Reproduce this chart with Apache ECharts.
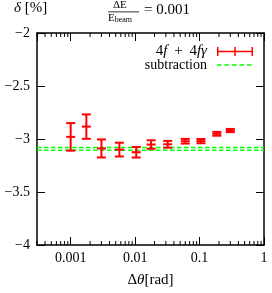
<!DOCTYPE html>
<html>
<head>
<meta charset="utf-8">
<script src="https://cdn.jsdelivr.net/npm/echarts@6/dist/echarts.min.js"></script>
<style>html,body{margin:0;padding:0;background:#fff}#c{width:272px;height:293px}</style>
</head>
<body>
<div id="c"></div>
<script>
// ---- data ----
const xValues   = [0.001, 0.00175, 0.003, 0.0057, 0.0104, 0.0177, 0.032, 0.06, 0.105, 0.185, 0.3];
const yValues   = [-2.98, -2.883, -3.089, -3.10, -3.125, -3.052, -3.05, -3.021, -3.02, -2.951, -2.92];
const yErrors   = [0.13, 0.115, 0.085, 0.065, 0.05, 0.04, 0.032, 0.022, 0.02, 0.018, 0.015];
const subtractionValues = [-3.080, -3.107];
const xRange = [0.0003, 1];
const yRange = [-4, -2];
const yTickInterval = 0.5;

const FONT = 'Liberation Serif';
const chart = echarts.init(document.getElementById('c'), null, {renderer: 'canvas'});

const errData = xValues.map((x, i) => [x, yValues[i], yValues[i] - yErrors[i], yValues[i] + yErrors[i]]);

// minor tick positions for the log axes (2..9 x 10^k inside range)
const minorTicks = [];
for (let e = -4; e <= 0; e++) {
  for (let m = 2; m <= 9; m++) {
    const v = m * Math.pow(10, e);
    if (v > xRange[0] && v < xRange[1]) minorTicks.push([v]);
  }
}

const minus = v => (v < 0 ? '\u2212' : '') + Math.abs(v);

const commonX = {
  type: 'log', logBase: 10, min: xRange[0], max: xRange[1],
  axisLine: {show: true, lineStyle: {color: '#000', width: 1.5}},
  axisTick: {show: true, inside: true, length: 8, lineStyle: {color: '#000', width: 1}},
  splitLine: {show: false}
};
const commonY = {
  type: 'value', min: yRange[0], max: yRange[1], interval: yTickInterval,
  axisLine: {show: true, lineStyle: {color: '#000', width: 1.5}},
  axisTick: {show: true, inside: true, length: 8, lineStyle: {color: '#000', width: 1}},
  splitLine: {show: false}
};

const series = [];
subtractionValues.forEach(v => {
  series.push({
    name: 'subtraction', type: 'line', xAxisIndex: 0, yAxisIndex: 0,
    data: [[xRange[0], v], [xRange[1], v]],
    symbol: 'none', color: '#00ff00',
    lineStyle: {color: '#00ff00', width: 1.5, type: [4.5, 2.5]},
    z: 3, silent: true
  });
});
series.push({
  name: '4f + 4f\u03b3', type: 'custom', xAxisIndex: 0, yAxisIndex: 0,
  color: '#ff0000',
  data: errData,
  encode: {x: 0, y: [1, 2, 3]},
  renderItem: function (params, api) {
    const x = api.value(0);
    const c = api.coord([x, api.value(1)]);
    const lo = api.coord([x, api.value(2)]);
    const hi = api.coord([x, api.value(3)]);
    const hw = 4.5;
    const st = {stroke: '#ff0000', lineWidth: 2};
    return {type: 'group', children: [
      {type: 'line', shape: {x1: c[0], y1: lo[1], x2: c[0], y2: hi[1]}, style: st},
      {type: 'line', shape: {x1: c[0] - hw, y1: lo[1], x2: c[0] + hw, y2: lo[1]}, style: st},
      {type: 'line', shape: {x1: c[0] - hw, y1: hi[1], x2: c[0] + hw, y2: hi[1]}, style: st},
      {type: 'line', shape: {x1: c[0] - hw, y1: c[1], x2: c[0] + hw, y2: c[1]}, style: st}
    ]};
  },
  z: 4
});
series.push({
  name: 'minorTicks', type: 'custom', xAxisIndex: 0, yAxisIndex: 0,
  data: minorTicks, silent: true,
  renderItem: function (params, api) {
    const b = api.coord([api.value(0), yRange[0]]);
    const t = api.coord([api.value(0), yRange[1]]);
    const st = {stroke: '#000', lineWidth: 1};
    return {type: 'group', children: [
      {type: 'line', shape: {x1: b[0], y1: b[1], x2: b[0], y2: b[1] - 4}, style: st},
      {type: 'line', shape: {x1: t[0], y1: t[1], x2: t[0], y2: t[1] + 4}, style: st}
    ]};
  },
  z: 5
});

const option = {
  animation: false,
  backgroundColor: '#fff',
  grid: {left: 37, right: 8, top: 33, bottom: 42, containLabel: false},
  xAxis: [
    Object.assign({}, commonX, {
      position: 'bottom',
      name: '\u0394{i|\u03b8}[rad]', nameLocation: 'middle', nameGap: 28,
      nameTextStyle: {fontFamily: FONT, fontSize: 15, color: '#000',
        rich: {i: {fontFamily: FONT, fontSize: 15, fontStyle: 'italic', color: '#000'}}},
      axisLabel: {fontFamily: FONT, fontSize: 14, color: '#000', margin: 6, showMinLabel: false,
        formatter: v => String(+(+v).toPrecision(6))}
    }),
    Object.assign({}, commonX, {position: 'top', axisLabel: {show: false}})
  ],
  yAxis: [
    Object.assign({}, commonY, {
      position: 'left',
      axisLabel: {fontFamily: FONT, fontSize: 14, color: '#000', margin: 7, formatter: minus}
    }),
    Object.assign({}, commonY, {position: 'right', axisLabel: {show: false}})
  ],
  legend: [
    {
      data: [{name: '4f + 4f\u03b3', icon: 'path://M0,3.75h36v1.5h-36z M0,0h1.5v9h-1.5z M17.25,0h1.5v9h-1.5z M34.5,0h1.5v9h-1.5z'}],
      right: 14, top: 39, itemWidth: 36, itemHeight: 9, align: 'right',
      formatter: () => '4{i|f}\u2009 + \u20094{i|f\u03b3}',
      textStyle: {fontFamily: FONT, fontSize: 15, color: '#000', padding: [0, 5, 0, 0],
        rich: {i: {fontFamily: FONT, fontSize: 15, fontStyle: 'italic', color: '#000'}}},
      itemStyle: {color: '#ff0000'}, selectedMode: false
    },
    {
      data: [{name: 'subtraction', icon: 'path://M0,0h4.5v1.5h-4.5z M7.5,0h4.5v1.5h-4.5z M15,0h4.5v1.5h-4.5z M22.5,0h4.5v1.5h-4.5z M30,0h4.5v1.5h-4.5z M36,0h0v1.5h0z'}],
      right: 14, top: 53, itemWidth: 36, itemHeight: 9, align: 'right',
      textStyle: {fontFamily: FONT, fontSize: 14, color: '#000', padding: [0, 5, 0, 0]},
      itemStyle: {color: '#00ff00'}, selectedMode: false
    }
  ],
  graphic: [
    {type: 'text', left: 14, top: 1,
     style: {text: '{i|\u03b4} [%]', fontFamily: FONT, fontSize: 15, fill: '#000',
       rich: {i: {fontFamily: FONT, fontSize: 15, fontStyle: 'italic', fill: '#000'}}}},
    {type: 'text', left: 113, top: 0,
     style: {text: '\u0394E', fontFamily: FONT, fontSize: 11, fill: '#000'}},
    {type: 'rect', shape: {x: 108, y: 11.5, width: 31, height: 0.8}, style: {fill: '#000'}},
    {type: 'text', left: 108, top: 12.5,
     style: {text: 'E{s|beam}', fontFamily: FONT, fontSize: 11, fill: '#000',
       rich: {s: {fontFamily: FONT, fontSize: 8, fill: '#000', verticalAlign: 'bottom', padding: [4, 0, 0, 0]}}}},
    {type: 'text', left: 144, top: 3,
     style: {text: '= 0.001', fontFamily: FONT, fontSize: 15, fill: '#000'}}
  ],
  series: series
};
chart.setOption(option);
</script>
</body>
</html>
